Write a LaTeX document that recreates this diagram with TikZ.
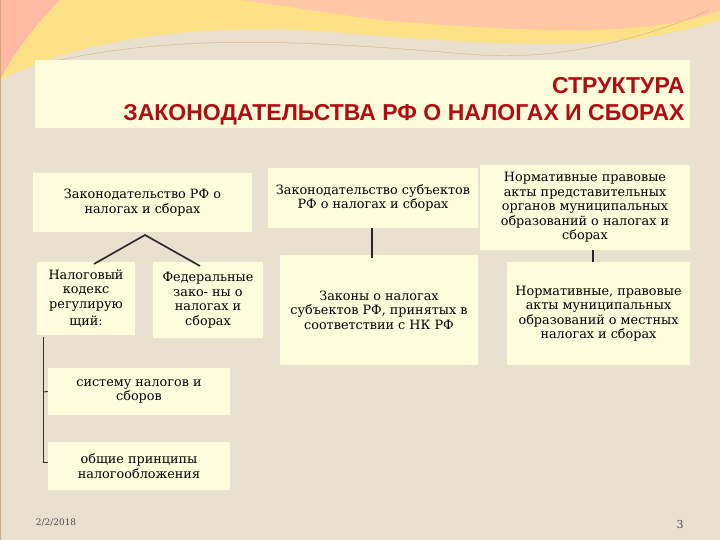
\documentclass[tikz,border=0pt]{standalone}
\usepackage{fontspec}
\setmainfont{DejaVu Serif}
\newfontfamily\titlefont{Liberation Sans}
\begin{document}
\begin{tikzpicture}[x=1pt,y=-1pt,
  bx/.style={fill=boxc,inner sep=0pt},
  tx/.style={align=center,font=\fontsize{12.8}{14.5}\selectfont,text=black},
  ln/.style={line width=1.6pt,black!85}]
\definecolor{bg}{HTML}{E9E0D0}
\definecolor{boxc}{HTML}{FFFCDC}
\definecolor{tred}{HTML}{B00D12}
\useasboundingbox (0,0) rectangle (720,540);
\fill[bg] (0,0) rectangle (720,540);
% top waves
\fill[yellow!55!orange!45!white] (0,0) -- (720,0) -- (720,20) .. controls (600,60) and (450,40) .. (300,30) .. controls (150,25) and (60,50) .. (0,80) -- cycle;
\fill[red!25!orange!35!white] (240,0) -- (720,0) -- (720,10) .. controls (650,40) and (500,30) .. (380,20) .. controls (320,12) and (280,5) .. (240,0) -- cycle;
\fill[orange!45!red!35!white] (0,0) -- (60,0) .. controls (30,30) and (10,60) .. (0,80) -- cycle;
\draw[brown!70,line width=0.6pt] (0,0) -- (0,540);
\draw[brown!60,line width=0.5pt] (60,60) .. controls (200,30) and (350,45) .. (480,55) .. controls (560,60) and (640,40) .. (710,10);
% title band
\fill[boxc] (35,60) rectangle (690,128);
\node[anchor=east,font=\titlefont\bfseries\fontsize{23}{27}\selectfont,text=tred,align=right] (title) at (688,101) {СТРУКТУРА\\ЗАКОНОДАТЕЛЬСТВА РФ О НАЛОГАХ И СБОРАХ};
% boxes
\node[bx,minimum width=219pt,minimum height=59pt] (b1) at (142.5,202.5) {};
\node[tx] at (b1) {Законодательство РФ о\\налогах и сборах};
\node[bx,minimum width=98pt,minimum height=73pt] (b2) at (86,298.5) {};
\node[tx] at (b2) {Налоговый\\кодекс\\регулирую\\[3pt]щий:};
\node[bx,minimum width=110pt,minimum height=76pt] (b3) at (208,300) {};
\node[tx] at (b3) {Федеральные\\зако- ны о\\налогах и\\сборах};
\node[bx,minimum width=210pt,minimum height=60pt] (b4) at (373,198) {};
\node[tx] at (b4) {Законодательство субъектов\\РФ о налогах и сборах};
\node[bx,minimum width=198pt,minimum height=110pt] (b5) at (379,310) {};
\node[tx] at (b5) {Законы о налогах\\субъектов РФ, принятых в\\соответствии с НК РФ};
\node[bx,minimum width=210pt,minimum height=85pt] (b6) at (585,207.5) {};
\node[tx] at (b6) {Нормативные правовые\\акты представительных\\органов муниципальных\\образований о налогах и\\сборах};
\node[bx,minimum width=183pt,minimum height=103pt] (b7) at (598.5,313.5) {};
\node[tx] at (b7) {Нормативные, правовые\\акты муниципальных\\образований о местных\\налогах и сборах};
\node[bx,minimum width=182pt,minimum height=47pt] (b8) at (139,391.5) {};
\node[tx] at (b8) {систему налогов и\\сборов};
\node[bx,minimum width=182pt,minimum height=48pt] (b9) at (139,466) {};
\node[tx] at (b9) {общие принципы\\налогообложения};
% connectors
\coordinate (apex) at (145,235);
\draw[ln] (94,264) -- (apex) -- (200,266);
\draw[ln] (b4.south -| 372,0) -- (372,258);
\draw[ln] (b6.south -| 593,0) -- (593,262);
\draw[line width=1pt,black!80] (43,337) -- (43,462) -- (b9.west |- 0,462);
\draw[line width=1pt,black!80] (43,392) -- (b8.west);
% footer
\node[font=\fontsize{9}{10}\selectfont,text=black!70] (date) at (56,523) {2/2/2018};
\node[font=\fontsize{11}{12}\selectfont,text=black!70] (pg) at (680,524) {3};
\end{tikzpicture}
\end{document}
